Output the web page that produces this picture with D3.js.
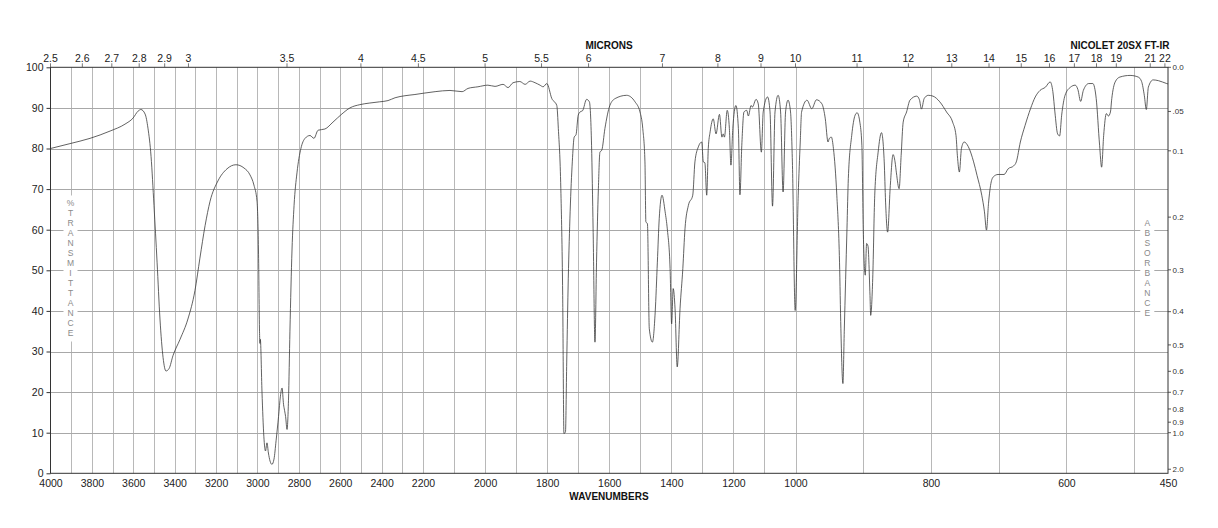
<!DOCTYPE html>
<html>
<head>
<meta charset="utf-8">
<script src="https://cdn.jsdelivr.net/npm/d3@7/dist/d3.min.js"></script>
<style>
html,body{margin:0;padding:0;background:#fff;}
svg{display:block;font-family:"Liberation Sans",Arial,Helvetica,sans-serif;}
</style>
</head>
<body>
<svg id="chart" width="1218" height="528"></svg>
<script>
// ---- data ----
const wavenumbers = [4000,3906,3809,3712,3640,3601,3577,3563,3543,3529,3514,3500,3485,3471,3456,3442,3427,3408,3374,3336,3302,3278,3253,3229,3191,3147,3104,3065,3036,3017,3002,2995,2990,2988,2986,2978,2969,2961,2954,2947,2939,2930,2920,2910,2898,2889,2881,2874,2869,2864,2857,2850,2843,2833,2823,2809,2790,2770,2746,2727,2707,2674,2635,2592,2553,2505,2457,2409,2369,2335,2287,2239,2200,2161,2113,2074,2055,2023,1991,1968,1942,1926,1910,1888,1871,1855,1839,1823,1813,1801,1785,1769,1764,1756,1750,1746,1741,1737,1732,1726,1719,1713,1707,1700,1694,1686,1673,1664,1657,1652,1646,1641,1635,1630,1624,1614,1598,1581,1544,1517,1501,1492,1485,1482,1477,1471,1461,1452,1445,1439,1430,1420,1413,1404,1399,1394,1388,1381,1372,1363,1356,1345,1331,1324,1313,1302,1297,1292,1286,1281,1275,1265,1256,1245,1237,1233,1229,1220,1213,1208,1202,1192,1184,1179,1173,1166,1157,1152,1143,1139,1127,1120,1110,1104,1090,1082,1074,1066,1056,1048,1040,1032,1024,1016,1010,1001,996,993,991,983,976,969,961,956,952,950,947,944,939,935,933,930,928,924,922,917,912,909,905,902,900,897,895,893,890,889,886,883,878,873,869,867,864,860,856,853,851,847,844,841,836,831,821,817,814,810,804,797,787,777,768,763,761,758,755,751,745,737,732,725,721,718,715,712,708,701,692,686,678,674,668,661,653,646,639,631,624,620,617,613,610,607,602,594,587,583,579,575,567,561,556,551,548,545,541,538,535,533,528,521,506,494,489,485,482,479,472,464,452,450];
const transmittance = [80.0,81.2,82.5,84.3,86,87.5,89.2,89.6,88.5,85,78,66,52,38,28.5,25.2,25.8,29,33,38,45,53,61,67,72,75,76,75.2,73.5,71,67,55,35,32,33,20,9,5.5,7.5,5,3,2.2,3.5,8,14,19,21,17,15.5,14,10.8,18,35,55,66,74,80,82.5,83.2,82.5,84.5,84.8,86.5,88.5,90,90.8,91.2,91.5,91.8,92.5,93,93.3,93.6,94,94.3,94,94.8,95.2,95.6,95.3,95.8,95,96.2,96.5,95.8,96.6,96.2,95.6,95.2,96.0,92.3,90.6,84.9,70.1,43.8,9.8,10.2,27.4,47.9,64.4,76.7,82.8,83.4,88.2,89.0,89.3,92.1,91.5,80.8,60.2,32.3,52,70.1,79.1,79.6,84.9,90.6,92.3,93.1,91.5,89,84.9,76.7,61.9,61.5,35.6,32.3,39.7,52,62.7,68.5,64.4,60.2,50.4,36.8,45.5,40.5,26.2,40.5,50.4,60.2,66,68.5,76.7,80.4,81.6,76.7,76.5,68.5,80,84.1,87.3,83.6,88.4,82.8,83.6,82.8,89.4,84.9,75.9,84.9,90.6,84.9,68.6,80.8,89,89.4,88,90.6,90.2,92.1,91,79.1,89,92.7,89,65.8,89,93.1,89,69.3,89,91.9,89,76.7,40.1,68.5,81.6,89,91.9,89.8,92,91,87.3,81.6,82.5,82.8,80,68.5,52,35.6,22.1,35,60.2,72.6,83.2,88.2,88.8,86.5,80.8,60.2,48.8,56.6,56,43.8,38.9,47.9,68.5,79.1,83.9,76.7,66.8,59.4,70.9,78.5,76.7,74,70.1,78.3,86.5,89,91.9,92.9,92,89.7,92.3,93.1,92.9,91.5,89,86.5,83.2,78.3,74.2,80,81.6,80.5,76.7,73.4,68.5,64.4,59.9,66.5,70.9,73,73.6,73.6,75,75.7,76.7,81.6,85.7,89.8,92.7,94.3,95.1,96.4,94,89,83.6,83.1,88.2,93.1,95.1,95.6,94.5,91.6,94.3,96,96,92.3,80.8,75.4,83.2,88.6,88,89,92.3,96.4,97.6,98,97.6,96.5,93.1,89.6,95.1,96.9,96.7,96,95.9];

const wavenumberTicks = [4000,3800,3600,3400,3200,3000,2800,2600,2400,2200,2000,1800,1600,1400,1200,1000,800,600,450];
const gridWavenumbers = d3.range(3900, 499, -100);
const micronTicks = [2.5,2.6,2.7,2.8,2.9,3,3.5,4,4.5,5,5.5,6,7,8,9,10,11,12,13,14,15,16,17,18,19,21,22];
const transmittanceTicks = [0,10,20,30,40,50,60,70,80,90,100];
const absorbanceTicks = [0.0,0.05,0.1,0.2,0.3,0.4,0.5,0.6,0.7,0.8,0.9,1.0,2.0];
const absorbanceLabels = ["0.0",".05","0.1","0.2","0.3","0.4","0.5","0.6","0.7","0.8","0.9","1.0","2.0"];
const leftTitle = "%TRANSMITTANCE";
const rightTitle = "ABSORBANCE";

// ---- layout ----
const PL = 50.5, PR = 1168, PT = 67.3, PB = 473.3;
const PW = PR - PL;
const svg = d3.select("#chart");

const x = d3.scaleLinear()
  .domain([4000, 2200, 1000, 450])
  .range([PL, PL + PW / 3, PL + 2 * PW / 3, PR]);
const y = d3.scaleLinear().domain([0, 100]).range([PB, PT]);

// grid
const grid = svg.append("g");
grid.selectAll("line.v").data(gridWavenumbers).join("line")
  .attr("class", "v")
  .attr("x1", d => Math.round(x(d)) + 0.5).attr("x2", d => Math.round(x(d)) + 0.5)
  .attr("y1", PT).attr("y2", PB)
  .attr("stroke", "#b8b8b8").attr("stroke-width", 1);
grid.selectAll("line.h").data(transmittanceTicks.slice(1, -1)).join("line")
  .attr("class", "h")
  .attr("x1", PL).attr("x2", PR)
  .attr("y1", d => Math.round(y(d)) + 0.5).attr("y2", d => Math.round(y(d)) + 0.5)
  .attr("stroke", "#a8a8a8").attr("stroke-width", 1);

// vertical side titles with white background
function sideTitle(text, cx, topY) {
  const chars = text.split("");
  const g = svg.append("g");
  g.append("rect")
    .attr("x", cx - 7).attr("y", topY - 8)
    .attr("width", 14).attr("height", chars.length * 10 + 6)
    .attr("fill", "#fff");
  g.selectAll("text").data(chars).join("text")
    .attr("x", cx).attr("y", (d, i) => topY + i * 10)
    .attr("dy", "0.35em")
    .attr("text-anchor", "middle")
    .attr("font-size", 8.5)
    .attr("fill", "#8a8a8a")
    .text(d => d);
}
sideTitle(leftTitle, 70.5, 203.5);
sideTitle(rightTitle, 1147.3, 223.3);

// spectrum
const pts = wavenumbers.map((w, i) => [w, transmittance[i]]);
svg.append("path")
  .datum(pts)
  .attr("fill", "none")
  .attr("stroke", "#3a3a3a")
  .attr("stroke-width", 0.8)
  .attr("stroke-linejoin", "round")
  .attr("d", d3.line().x(d => x(d[0])).y(d => y(d[1])).curve(d3.curveMonotoneX));

// frame
svg.append("rect")
  .attr("x", PL).attr("y", PT).attr("width", PW).attr("height", PB - PT)
  .attr("fill", "none").attr("stroke", "#333").attr("stroke-width", 1);

// bottom axis
const axB = svg.append("g")
  .attr("transform", `translate(0,${PB})`)
  .call(d3.axisBottom(x).tickValues(wavenumberTicks).tickSize(0).tickPadding(6).tickFormat(d3.format("d")));
axB.select(".domain").remove();
axB.selectAll("text").attr("font-size", 10.5).attr("fill", "#222").attr("font-family", "Liberation Sans, Arial, sans-serif");

// top micron axis
const axT = svg.append("g").attr("transform", `translate(0,${PT})`);
axT.selectAll("line").data(micronTicks).join("line")
  .attr("x1", d => x(10000 / d)).attr("x2", d => x(10000 / d))
  .attr("y1", -4).attr("y2", 0)
  .attr("stroke", "#555").attr("stroke-width", 0.8);
axT.selectAll("text").data(micronTicks).join("text")
  .attr("x", d => x(10000 / d)).attr("y", -5.5)
  .attr("text-anchor", "middle")
  .attr("font-size", 10.5).attr("fill", "#222")
  .text(d => String(d));

// left axis
const axL = svg.append("g")
  .attr("transform", `translate(${PL},0)`)
  .call(d3.axisLeft(y).tickValues(transmittanceTicks).tickSize(4).tickPadding(3).tickFormat(d3.format("d")));
axL.select(".domain").remove();
axL.selectAll("line").attr("stroke", "#333");
axL.selectAll("text").attr("font-size", 10.5).attr("fill", "#222").attr("font-family", "Liberation Sans, Arial, sans-serif");

// right absorbance axis
const axR = svg.append("g").attr("transform", `translate(${PR},0)`);
axR.selectAll("line").data(absorbanceTicks).join("line")
  .attr("x1", 0).attr("x2", 3)
  .attr("y1", d => y(100 * Math.pow(10, -d))).attr("y2", d => y(100 * Math.pow(10, -d)))
  .attr("stroke", "#333").attr("stroke-width", 0.8);
axR.selectAll("text").data(absorbanceTicks).join("text")
  .attr("x", 4.5).attr("y", d => y(100 * Math.pow(10, -d)))
  .attr("dy", "0.35em")
  .attr("font-size", 8).attr("fill", "#333")
  .text((d, i) => absorbanceLabels[i]);

// titles
svg.append("text").attr("x", 609).attr("y", 48.5).attr("text-anchor", "middle")
  .attr("font-size", 10).attr("font-weight", "bold").attr("fill", "#111").text("MICRONS");
svg.append("text").attr("x", 1120).attr("y", 48.5).attr("text-anchor", "middle")
  .attr("font-size", 10).attr("font-weight", "bold").attr("fill", "#111").text("NICOLET 20SX FT-IR");
svg.append("text").attr("x", 609).attr("y", 500).attr("text-anchor", "middle")
  .attr("font-size", 10).attr("font-weight", "bold").attr("fill", "#111").text("WAVENUMBERS");
</script>
</body>
</html>
